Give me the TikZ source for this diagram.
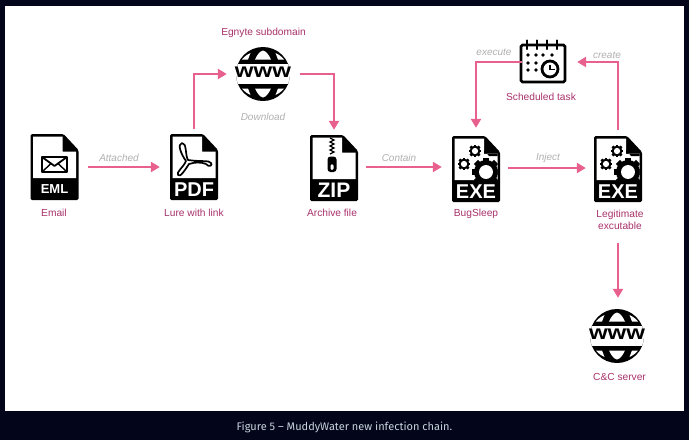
\documentclass[tikz,border=0pt]{standalone}
\usepackage{fontspec}
\usepackage{graphicx}
\setmainfont{Liberation Sans}
\newfontfamily\capfont{Fira Sans}
\usetikzlibrary{arrows.meta,calc}
\definecolor{pagebg}{HTML}{03051A}
\definecolor{lab}{HTML}{A8326B}
\definecolor{arr}{HTML}{E8608E}
\definecolor{edgegray}{HTML}{B0B0B0}
\definecolor{captxt}{HTML}{C8D4DC}
\tikzset{
  flow/.style={draw=arr,line width=2.6pt,-{Triangle[length=9pt,width=10pt]}},
  lbl/.style={text=lab,font=\fontsize{10.2}{12.3}\selectfont,align=center,inner sep=0pt,anchor=base},
  lblm/.style={text=lab,font=\fontsize{10.2}{12.3}\selectfont,align=center,inner sep=0pt},
  elbl/.style={text=edgegray,font=\fontsize{10}{11}\selectfont\itshape,inner sep=0pt,anchor=base},
  iconbox/.style={minimum width=48pt,minimum height=66pt,inner sep=0pt},
  globebox/.style={circle,minimum size=54pt,inner sep=0pt},
  calbox/.style={minimum width=46pt,minimum height=44pt,inner sep=0pt},
  filetxt/.style={text=white,font=\bfseries\fontsize{#1}{#1}\selectfont,inner sep=0pt},
}
% file icon body, origin = centre (48 x 66)
\newcommand{\fileicon}[3]{%
  \begin{scope}[shift={(#1)}]
    \fill[black,rounded corners=1.5pt] (-24,-33) -- (9,-33) -- (24,-17) -- (24,33) -- (-24,33) -- cycle;
    \fill[white] (-21.5,-30.5) -- (8,-30.5) -- (8,-15.5) -- (21.5,-15.5) -- (21.5,11) -- (-21.5,11) -- cycle;
    \node[filetxt=#3] at (0,22.5) {#2};
  \end{scope}}
\newcommand{\gear}[4]{%
  \fill[black] (#1,#2) circle[radius=#3];
  \foreach \a in {0,45,...,315}
    \fill[black,rotate around={\a:(#1,#2)}] ($(#1,#2)+(-#3*0.25,-#3*1.18)$) rectangle ($(#1,#2)+(#3*0.25,-#3*0.8)$);
  \fill[white] (#1,#2) circle[radius=#3*#4];}
\newcommand{\exeart}[1]{%
  \begin{scope}[shift={(#1)}]
    \gear{-1}{-18}{5.4}{0.58}
    \gear{-12}{-5}{5.4}{0.58}
    \begin{scope}
      \clip (-21.5,-30.5) rectangle (21.5,11);
      \gear{10}{3}{12}{0.58}
    \end{scope}
    \fill[black] (8,-15.5) -- (8,-19) -- (13,-13) -- (21.5,-13) -- (21.5,-15.5) -- cycle;
  \end{scope}}
\newcommand{\globeicon}[1]{%
  \begin{scope}[shift={(#1)}]
    \begin{scope}
      \clip (0,0) circle[radius=27];
      \fill[black] (-27,-27) rectangle (27,27);
      \fill[white] (-27,-10) rectangle (27,10);
      % domes
      \fill[white] (-8,-14.5) .. controls (-6,-19) and (-3,-23) .. (0,-23.5) .. controls (3,-23) and (6,-19) .. (8,-14.5) -- cycle;
      \fill[white] (-8,14.5) .. controls (-6,19) and (-3,23) .. (0,23.5) .. controls (3,23) and (6,19) .. (8,14.5) -- cycle;
      % side slivers
      \fill[white] (-15,-14.5) -- (-21,-14.5) .. controls (-19,-17) and (-16,-19.5) .. (-12.5,-21) -- cycle;
      \fill[white] (15,-14.5) -- (21,-14.5) .. controls (19,-17) and (16,-19.5) .. (12.5,-21) -- cycle;
      \fill[white] (-15,14.5) -- (-21,14.5) .. controls (-19,17) and (-16,19.5) .. (-12.5,21) -- cycle;
      \fill[white] (15,14.5) -- (21,14.5) .. controls (19,17) and (16,19.5) .. (12.5,21) -- cycle;
    \end{scope}
    \node[text=black,inner sep=0pt,font=\bfseries\fontsize{20}{20}\selectfont] at (0,-1.5) {\scalebox{1.2}[1]{www}};
  \end{scope}}
\begin{document}
\begin{tikzpicture}[x=1pt,y=-1pt]
\useasboundingbox (0,0) rectangle (689,440);
\fill[pagebg] (0,0) rectangle (689,440);
\fill[white] (5,6) rectangle (684,411);

% icons
\fileicon{54.5,167}{EML}{13}
\fileicon{194,167}{PDF}{20}
\fileicon{334,168}{ZIP}{21}
\fileicon{476,169}{EXE}{20}
\fileicon{618,169}{EXE}{20}
\exeart{476,169}
\exeart{618,169}
\globeicon{263,74}
\globeicon{617,336}

% envelope
\begin{scope}[shift={(54.5,167)}]
  \draw[black,line width=1.8pt,line join=round] (-12.5,-10) rectangle (12.5,5);
  \draw[black,line width=1.8pt,line join=round] (-12.5,-10) -- (0,-1) -- (12.5,-10);
  \draw[black,line width=1.4pt] (-12.5,5) -- (-3.5,-3.5) (12.5,5) -- (3.5,-3.5);
\end{scope}
% acrobat
\begin{scope}[shift={(194,167)}]
  \draw[black,line width=1.7pt,line join=round]
    (-12,-24) .. controls (-17,-23) and (-13,-13) .. (-8,-6)
    .. controls (-11,1) and (-18,5) .. (-16,8)
    .. controls (-14,11) and (-9,3) .. (-5,-3)
    .. controls (1,-5) and (7,-5) .. (12,-3)
    .. controls (15,1) and (19,-2) .. (17,-4)
    .. controls (15,-7) and (8,-5) .. (-6,-7)
    .. controls (-9,-12) and (-7,-24) .. (-12,-24) -- cycle;
\end{scope}
% zipper
\begin{scope}[shift={(334,168)}]
  \draw[black,line width=1.2pt] (-4,-30) -- (0,-28) -- (-4,-26) -- (0,-24) -- (-4,-22) -- (0,-20) -- (-4,-18) -- (0,-16) -- (-4,-14);
  \fill[black,rounded corners=3pt] (-6.5,-11.5) rectangle (2.5,4);
  \fill[white,rounded corners=1.5pt] (-3.5,-4) rectangle (-0.5,2);
\end{scope}
% calendar
\begin{scope}[shift={(543,62)}]
  \draw[black,line width=2.6pt,rounded corners=1.5pt] (-22,-17) rectangle (22,20);
  \foreach \x in {-16,-6,4,14} \draw[black,line width=2.4pt,line cap=round] (\x,-21.5) -- (\x,-13);
  \foreach \x/\y in {-15/-7,-7/-7,0/-7,9/-7,-15/1,-7/1,-15/8,-7/8}
    \fill[black] (\x,\y) circle[radius=1.8];
  \draw[black,line width=2.8pt,fill=white] (7,7) circle[radius=8];
  \draw[black,line width=1.8pt] (7,2.5) -- (7,7.5) -- (11.5,7.5);
\end{scope}

% named anchor nodes
\node[iconbox] (eml) at (54.5,167) {};
\node[iconbox] (pdf) at (194,167) {};
\node[iconbox] (zip) at (334,168) {};
\node[iconbox] (bug) at (476,169) {};
\node[iconbox] (leg) at (618,169) {};
\node[globebox] (egn) at (263,74) {};
\node[globebox] (cnc) at (617,336) {};
\node[calbox] (cal) at (543,62) {};

% connectors
\draw[flow,shorten <=9pt,shorten >=10pt] (eml.east |- 0,167) -- (pdf.west |- 0,167);
\draw[flow,shorten <=5pt,shorten >=9pt] (pdf.north) |- (egn.west);
\draw[flow,shorten <=10pt,shorten >=5pt] (egn.east) -| (zip.north);
\draw[flow,shorten <=8pt,shorten >=10pt] (zip.east |- 0,167) -- (bug.west |- 0,167);
\draw[flow,shorten <=8pt,shorten >=8pt] (bug.east |- 0,168) -- (leg.west |- 0,168);
\draw[flow,shorten <=6pt,shorten >=11pt] (leg.north) |- (cal.east);
\draw[flow,shorten <=-2pt,shorten >=8pt] (cal.west) -| (bug.north);
\path (leg.south) ++(0,41) coordinate (legout);
\draw[flow,shorten >=11pt] (legout) -- (legout |- cnc.north);

% labels
\node[lbl] (t1) at (54,216) {Email};
\node[lbl] (t2) at (194,216) {Lure with link};
\node[lbl] (t3) at (263.5,35) {Egnyte subdomain};
\node[lbl] (t4) at (332,216) {Archive file};
\node[lbl] (t5) at (476,216) {BugSleep};
\node[lblm] (t6) at (620,219.5) {Legitimate\\excutable};
\node[lbl] (t7) at (541,100) {Scheduled task};
\node[lbl] (t8) at (619.5,380) {C\&C server};
\node[elbl] (e1) at (119,161) {Attached};
\node[elbl] (e2) at (263,120.5) {Download};
\node[elbl] (e3) at (399,161) {Contain};
\node[elbl] (e4) at (548,160) {Inject};
\node[elbl] (e5) at (494,55) {execute};
\node[elbl] (e6) at (607,58) {create};
\node[text=captxt,inner sep=0pt,font=\capfont\fontsize{11}{12}\selectfont,anchor=base] (cap) at (344.5,430) {Figure 5 – MuddyWater new infection chain.};
\end{tikzpicture}
\end{document}
